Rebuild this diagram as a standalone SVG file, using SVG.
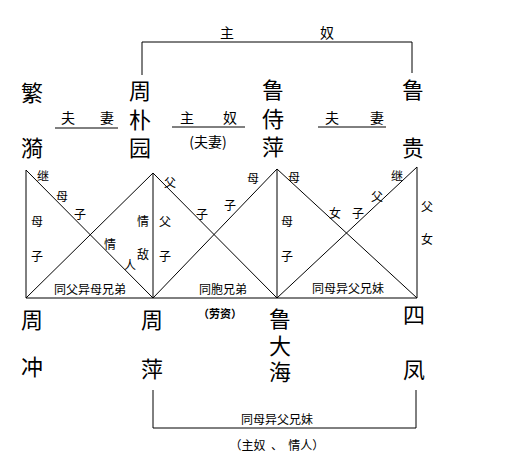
<svg xmlns="http://www.w3.org/2000/svg" width="523" height="471" viewBox="0 0 523 471">
<style>
text{font-family:"Noto Sans CJK SC","Noto Sans",sans-serif;fill:#000;text-anchor:middle;dominant-baseline:central}
.big{font-size:22px}
.mid{font-size:14px}
.sm{font-size:12px}
.xs{font-size:11px}
.pre{white-space:pre}
.vert{writing-mode:vertical-rl;text-orientation:upright}
line,polyline{stroke:#000;stroke-width:1;fill:none}
</style>
<rect width="523" height="471" fill="#fff"/>
<g id="connectors">
<polyline points="142,75 142,42 412,42 412,73"/>
<line x1="55" y1="128" x2="118" y2="128"/>
<line x1="172" y1="127" x2="245" y2="127"/>
<line x1="318" y1="127" x2="386" y2="127"/>
<line x1="26" y1="170" x2="26" y2="298"/>
<line x1="153" y1="173" x2="153" y2="298"/>
<line x1="277" y1="169" x2="277" y2="298"/>
<line x1="417" y1="167" x2="417" y2="298"/>
<line x1="26" y1="298" x2="417" y2="298"/>
<line x1="26" y1="170" x2="153" y2="298"/>
<line x1="153" y1="173" x2="26" y2="298"/>
<line x1="153" y1="173" x2="277" y2="298"/>
<line x1="277" y1="169" x2="153" y2="298"/>
<line x1="277" y1="169" x2="417" y2="298"/>
<line x1="417" y1="167" x2="277" y2="298"/>
<polyline points="153,390 153,428 416,428 416,390"/>
</g>
<g id="labels-top">
<text class="mid" x="227" y="32">主</text>
<text class="mid" x="327" y="32">奴</text>
<text class="mid" x="68" y="117">夫</text>
<text class="mid" x="107" y="117">妻</text>
<text class="mid" x="187" y="117">主</text>
<text class="mid" x="230" y="117">奴</text>
<text class="mid" x="208" y="141">(夫妻)</text>
<text class="mid" x="332" y="117">夫</text>
<text class="mid" x="377" y="117">妻</text>
</g>
<g id="node-fanyi"><text class="big" x="32" y="91">繁</text><text class="big" x="32" y="146">漪</text></g>
<g id="node-zhoupuyuan"><text class="big vert" x="140" y="80" style="text-anchor:start;letter-spacing:6.5px">周朴园</text></g>
<g id="node-lushiping"><text class="big vert" x="273" y="79" style="text-anchor:start;letter-spacing:6.5px">鲁侍萍</text></g>
<g id="node-lugui"><text class="big" x="413" y="88">鲁</text><text class="big" x="413" y="146">贵</text></g>
<g id="labels-box">
<text class="sm" x="43" y="175">继</text>
<text class="sm" x="62" y="195">母</text>
<text class="sm" x="80" y="213">子</text>
<text class="sm" x="37" y="220">母</text>
<text class="sm" x="37" y="255">子</text>
<text class="sm" x="143" y="220">情</text>
<text class="sm" x="143" y="253">敌</text>
<text class="sm" x="110" y="243">情</text>
<text class="sm" x="130" y="264">人</text>
<text class="sm" x="90" y="288">同父异母兄弟</text>
<text class="sm" x="170" y="181">父</text>
<text class="sm" x="165" y="220">父</text>
<text class="sm" x="165" y="255">子</text>
<text class="sm" x="202" y="213">子</text>
<text class="sm" x="230" y="204">子</text>
<text class="sm" x="253" y="177">母</text>
<text class="sm" x="223" y="288">同胞兄弟</text>
<text class="sm" x="294" y="176">母</text>
<text class="sm" x="287" y="220">母</text>
<text class="sm" x="287" y="255">子</text>
<text class="sm" x="335" y="212">女</text>
<text class="sm" x="358" y="212">子</text>
<text class="sm" x="377" y="195">父</text>
<text class="sm" x="397" y="175">继</text>
<text class="sm" x="348" y="287">同母异父兄妹</text>
<text class="sm" x="427" y="205">父</text>
<text class="sm" x="427" y="238">女</text>
</g>
<g id="node-zhouchong"><text class="big" x="32" y="318">周</text><text class="big" x="32" y="365">冲</text></g>
<g id="node-zhouping"><text class="big" x="152" y="318">周</text><text class="big" x="152" y="367">萍</text></g>
<g id="node-ludahai"><text class="big vert" x="280" y="308" style="text-anchor:start;letter-spacing:4.5px">鲁大海</text></g>
<g id="node-sifeng"><text class="big" x="414" y="313">四</text><text class="big" x="414" y="368">凤</text></g>
<g id="labels-bottom">
<text class="xs" x="220" y="313" font-weight="bold">（劳资）</text>
<text class="sm" x="277" y="418">同母异父兄妹</text>
<text class="sm pre" x="277" y="444">（主奴  、  情人）</text>
</g>
</svg>
